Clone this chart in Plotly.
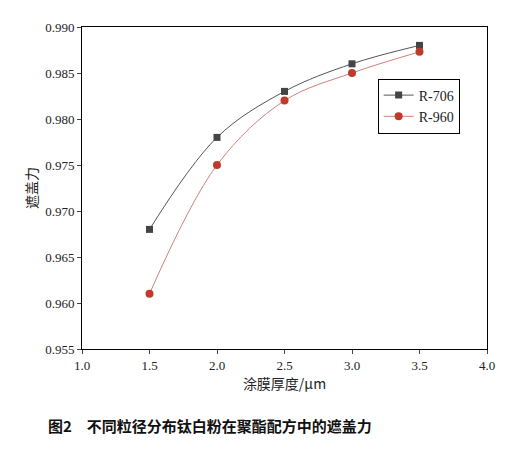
import plotly.graph_objects as go

x = [1.5, 2.0, 2.5, 3.0, 3.5]
r706 = [0.968, 0.978, 0.983, 0.986, 0.988]
r960 = [0.961, 0.975, 0.982, 0.985, 0.9873]

fig = go.Figure()
fig.add_trace(go.Scatter(x=x, y=r706, name="R-706", mode="lines+markers",
    line=dict(color="#555555", width=1, shape="spline"),
    marker=dict(symbol="square", size=7, color="#444444")))
fig.add_trace(go.Scatter(x=x, y=r960, name="R-960", mode="lines+markers",
    line=dict(color="#d08080", width=1, shape="spline"),
    marker=dict(symbol="circle", size=8, color="#c0392b")))

ax = dict(showline=True, linecolor="black", linewidth=1, mirror=True, ticks="outside",
          ticklen=4, showgrid=False, zeroline=False, automargin=False,
          tickfont=dict(size=13, color="#222", family="Liberation Serif"))
fig.update_layout(
    width=523, height=450, plot_bgcolor="white", paper_bgcolor="white",
    margin=dict(l=74, r=44, t=19, b=109),
    font=dict(family="Liberation Serif, Noto Sans CJK SC", color="#222"),
    xaxis=dict(ax, range=[1.0, 4.0], dtick=0.5, tickformat=".1f",
               title=dict(text="涂膜厚度/μm", font=dict(size=14, family="Noto Sans CJK SC"), standoff=4)),
    yaxis=dict(ax, range=[0.955, 0.990], dtick=0.005, tickformat=".3f",
               title=dict(text="遮盖力", font=dict(size=14, family="Noto Sans CJK SC"), standoff=4)),
    legend=dict(x=0.73, y=0.84, xanchor="left", yanchor="top", bordercolor="black", borderwidth=1,
                font=dict(size=14, family="Liberation Serif")),
    showlegend=True,
)
fig.add_annotation(text="<b>图2　不同粒径分布钛白粉在聚酯配方中的遮盖力</b>", xref="paper", yref="paper",
                   x=-0.09, y=-0.2, xanchor="left", yanchor="top", showarrow=False,
                   font=dict(size=15, family="Noto Sans CJK SC", color="#111"))
fig.write_html("out.html")
